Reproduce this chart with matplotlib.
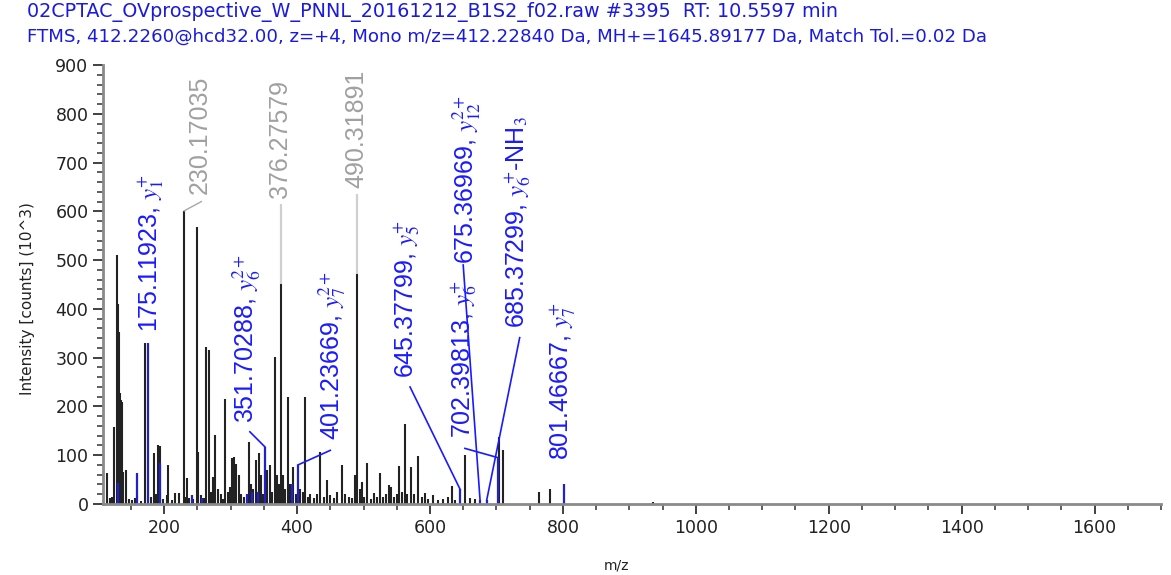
#MS/MS spectrum with annotated fragment ions
import matplotlib.pyplot as plt
from matplotlib.ticker import MultipleLocator

plt.rcParams['mathtext.fontset'] = 'stix'

title1 = '02CPTAC_OVprospective_W_PNNL_20161212_B1S2_f02.raw #3395  RT: 10.5597 min'
title2 = 'FTMS, 412.2260@hcd32.00, z=+4, Mono m/z=412.22840 Da, MH+=1645.89177 Da, Match Tol.=0.02 Da'

# unmatched peaks (m/z, intensity x10^3)
peak_mz = [
    113.8, 118.0, 121.0, 124.0, 128.7, 130.3, 131.5, 133.0, 135.0, 136.0,
    137.5, 143.0, 147.0, 152.0, 156.0, 165.0, 171.4, 180.0, 185.0, 188.0,
    191.0, 194.0, 198.0, 204.0, 206.5, 212.0, 216.0, 222.0, 230.17, 232.0,
    235.0, 238.0, 244.0, 249.0, 251.6, 256.0, 260.0, 263.0, 267.0, 270.0,
    274.0, 276.7, 281.0, 285.0, 288.0, 291.7, 296.0, 299.0, 302.0, 305.0,
    308.0, 312.0, 316.0, 320.0, 327.0, 330.0, 334.0, 338.0, 342.0, 345.0,
    349.0, 355.0, 359.0, 362.0, 367.0, 370.0, 373.0, 376.28, 379.0, 382.0,
    386.0, 389.0, 394.0, 398.0, 405.0, 409.0, 412.0, 416.0, 420.0, 425.0,
    430.0, 434.6, 440.0, 444.6, 449.0, 455.0, 460.0, 467.0, 472.0, 478.0,
    483.0, 487.0, 490.32, 494.0, 497.0, 501.0, 505.0, 511.0, 516.0, 520.0,
    525.0, 530.0, 534.0, 538.0, 541.0, 546.0, 550.0, 554.0, 558.0, 562.0,
    566.0, 571.0, 576.0, 582.5, 588.0, 592.5, 597.0, 605.0, 612.0, 620.0,
    627.0, 632.6, 638.0, 652.6, 660.0, 668.0, 704.0, 710.0, 764.0, 780.0,
    935.0]
peak_int = [
    63, 12, 15, 158, 511, 411, 352, 227, 213, 209,
    65, 70, 10, 8, 12, 6, 331, 15, 104, 20,
    120, 118, 10, 18, 80, 8, 22, 22, 601, 15,
    53, 12, 10, 568, 107, 18, 12, 322, 315, 25,
    56, 141, 30, 20, 10, 216, 25, 35, 94, 96,
    82, 60, 20, 15, 127, 40, 30, 90, 104, 60,
    20, 70, 80, 25, 301, 60, 40, 451, 60, 30,
    220, 40, 75, 20, 30, 25, 220, 15, 20, 12,
    20, 107, 15, 49, 18, 12, 25, 80, 20, 15,
    12, 59, 472, 30, 46, 15, 84, 10, 22, 15,
    63, 15, 20, 39, 35, 15, 20, 78, 25, 165,
    20, 75, 20, 98, 15, 22, 10, 18, 8, 10,
    15, 37, 8, 100, 12, 10, 138, 110, 25, 30,
    5]

# matched peaks
blue_mz = [130.0, 159.0, 175.12, 194.5, 241.6, 257.0, 325.0, 332.0, 341.0,
           351.70, 392.0, 401.24, 645.38, 675.37, 685.37, 702.40, 801.47]
blue_int = [43, 63, 330, 84, 18, 12, 20, 25, 25,
            117, 40, 80, 30, 8, 8, 95, 42]

# grey labels (unmatched but labelled)
grey_mz = [230.17035, 376.27579, 490.31891]
grey_int = [601, 451, 472]
grey_text = ['230.17035', '376.27579', '490.31891']
grey_lab_x = [254, 374.4, 489.8]
grey_lab_y = [636, 628, 648]

# blue labels
lab_mz = [175.11923, 351.70288, 401.23669, 645.37799, 702.39813, 675.36969, 685.37299, 801.46667]
lab_int = [330, 117, 80, 30, 95, 8, 8, 42]
lab_text = ['175.11923, $y_1^{+}$', '351.70288, $y_6^{2+}$', '401.23669, $y_7^{2+}$',
            '645.37799, $y_5^{+}$', '702.39813, $y_6^{+}$', '675.36969, $y_{12}^{2+}$',
            '685.37299, $y_6^{+}$-NH$_3$', '801.46667, $y_7^{+}$']
lab_x = [179, 324, 452, 565, 650, 655, 732, 800]
lab_y = [352, 166, 131, 258, 135, 493, 360, 90]
lead_x = [None, 329, 450, 570, 652.6, 650, 735, None]
lead_y = [None, 148, 110, 240, 114, 490, 341, None]

fig = plt.figure(figsize=(11.71, 5.75), dpi=100)
ax = fig.add_axes([103/1171, 1-504/575, (1161-103)/1171, (504-65)/575])

ax.vlines(peak_mz, 0, peak_int, color='#222222', lw=1.5)
ax.vlines(blue_mz, 0, blue_int, color='#2020d0', lw=1.6)

# grey labels and their leaders
ax.plot([grey_mz[0], 256], [grey_int[0], 620], color='#a8a8a8', lw=1)
for m, i, ly in zip(grey_mz[1:], grey_int[1:], grey_lab_y[1:]):
    ax.vlines(m, i, ly - 12, color='#cfcfcf', lw=1.6)
for t, x, y in zip(grey_text, grey_lab_x, grey_lab_y):
    ax.text(x, y, t, rotation=90, ha='center', va='bottom', color='#a0a0a0',
            fontsize=18, family='Liberation Sans')

# blue labels
for m, i, t, x, y, lx, ly in zip(lab_mz, lab_int, lab_text, lab_x, lab_y, lead_x, lead_y):
    if lx is not None:
        ax.plot([m, lx], [i, ly], color='#1a1aff', lw=1.2)
    ax.text(x, y, t, rotation=90, ha='center', va='bottom', color='#1a1aff',
            fontsize=18, family='Liberation Sans')

ax.set_xlim(108, 1700)
ax.set_ylim(0, 900)
ax.xaxis.set_major_locator(MultipleLocator(200))
ax.xaxis.set_minor_locator(MultipleLocator(50))
ax.yaxis.set_major_locator(MultipleLocator(100))
ax.yaxis.set_minor_locator(MultipleLocator(20))
for s in ['top', 'right']:
    ax.spines[s].set_visible(False)
for s in ['left', 'bottom']:
    ax.spines[s].set_color('#8a8a8a')
    ax.spines[s].set_linewidth(2)
ax.tick_params(which='major', length=7, width=1.3, color='#333333', labelsize=12.5,
               labelcolor='#222222')
ax.tick_params(which='minor', length=4, width=1.1, color='#333333')
ax.set_xlabel('m/z', fontsize=10, color='#222222')
ax.xaxis.set_label_coords(0.485, -0.125)
ax.set_ylabel('Intensity [counts] (10^3)', fontsize=11, color='#222222')
ax.yaxis.set_label_coords(-0.064, 0.467)

fig.text(27/1171, 1-12/575, title1, fontsize=13.8, color='#1a1adf', va='center')
fig.text(27/1171, 1-37/575, title2, fontsize=13.15, color='#1a1adf', va='center')

plt.savefig('out.png', dpi=100)
